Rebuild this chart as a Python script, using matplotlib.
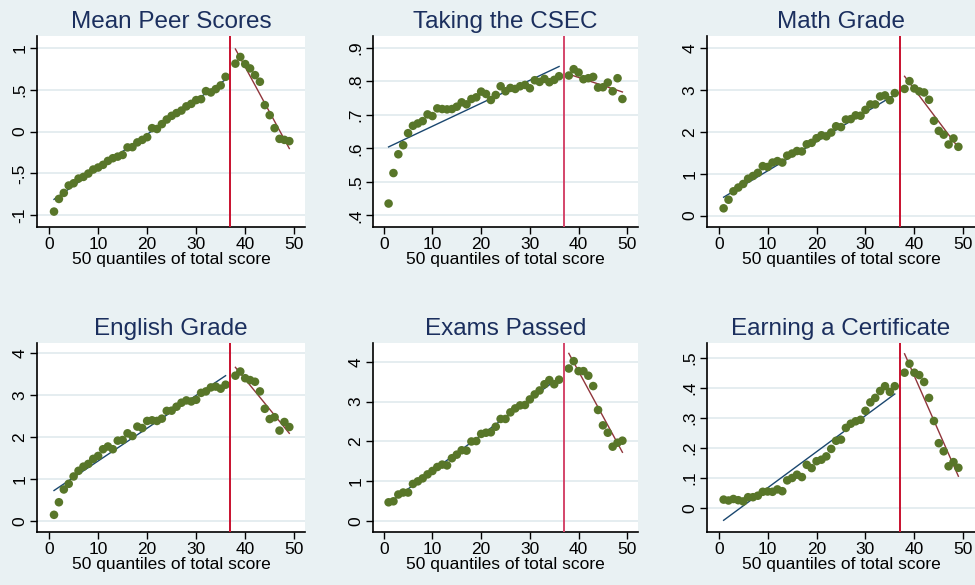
import matplotlib
matplotlib.use('Agg')
import matplotlib.pyplot as plt

# --- data (quantile bins 1-36 and 38-49) ---
x_left = list(range(1, 37))
x_right = list(range(38, 50))
cutoff = 37

peer_left = [-0.956, -0.805, -0.733, -0.645, -0.618, -0.562, -0.542, -0.502, -0.454, -0.430,
             -0.398, -0.351, -0.319, -0.300, -0.280, -0.190, -0.187, -0.130, -0.100, -0.068,
             0.040, 0.030, 0.088, 0.143, 0.187, 0.220, 0.250, 0.300, 0.330, 0.375,
             0.386, 0.482, 0.466, 0.506, 0.550, 0.653]
peer_right = [0.810, 0.890, 0.805, 0.753, 0.673, 0.594, 0.315, 0.195, 0.040, -0.088, -0.100, -0.115]
peer_fit_left = [-0.81, 0.62]
peer_fit_right = [0.985, -0.203]

csec_left = [0.435, 0.526, 0.582, 0.609, 0.645, 0.667, 0.674, 0.681, 0.701, 0.696,
             0.719, 0.717, 0.716, 0.717, 0.724, 0.737, 0.731, 0.747, 0.752, 0.769,
             0.762, 0.744, 0.759, 0.785, 0.770, 0.780, 0.777, 0.785, 0.789, 0.779,
             0.803, 0.798, 0.807, 0.797, 0.804, 0.815]
csec_right = [0.817, 0.836, 0.826, 0.806, 0.809, 0.813, 0.781, 0.782, 0.796, 0.770, 0.809, 0.747]
csec_fit_left = [0.604, 0.844]
csec_fit_right = [0.821, 0.768]

math_left = [0.175, 0.380, 0.580, 0.670, 0.755, 0.880, 0.945, 1.020, 1.180, 1.160,
             1.265, 1.300, 1.265, 1.430, 1.480, 1.540, 1.530, 1.700, 1.735, 1.845,
             1.915, 1.890, 1.980, 2.130, 2.110, 2.290, 2.300, 2.390, 2.380, 2.520,
             2.650, 2.650, 2.840, 2.865, 2.750, 2.920]
math_right = [3.020, 3.205, 3.030, 2.960, 2.935, 2.760, 2.260, 2.020, 1.930, 1.695, 1.840, 1.640]
math_fit_left = [0.44, 2.88]
math_fit_right = [3.32, 1.62]

english_left = [0.150, 0.450, 0.755, 0.890, 1.065, 1.200, 1.300, 1.365, 1.485, 1.555,
                1.715, 1.780, 1.715, 1.920, 1.935, 2.095, 2.030, 2.255, 2.220, 2.390,
                2.405, 2.390, 2.445, 2.630, 2.635, 2.730, 2.825, 2.880, 2.855, 2.895,
                3.060, 3.095, 3.190, 3.210, 3.160, 3.255]
english_right = [3.470, 3.570, 3.410, 3.365, 3.325, 3.095, 2.680, 2.435, 2.480, 2.160, 2.365, 2.245]
english_fit_left = [0.73, 3.47]
english_fit_right = [3.67, 2.095]

exams_left = [0.475, 0.500, 0.670, 0.720, 0.720, 0.935, 1.000, 1.075, 1.175, 1.260,
              1.360, 1.420, 1.400, 1.580, 1.670, 1.780, 1.770, 2.000, 2.010, 2.190,
              2.220, 2.230, 2.370, 2.565, 2.565, 2.730, 2.830, 2.905, 2.915, 3.055,
              3.180, 3.280, 3.435, 3.540, 3.435, 3.550]
exams_right = [3.830, 4.015, 3.765, 3.765, 3.650, 3.390, 2.790, 2.405, 2.220, 1.870, 1.970, 2.020]
exams_fit_left = [0.45, 3.60]
exams_fit_right = [4.21, 1.73]

cert_left = [0.028, 0.025, 0.030, 0.026, 0.022, 0.036, 0.036, 0.041, 0.054, 0.055,
             0.054, 0.062, 0.056, 0.092, 0.100, 0.111, 0.103, 0.144, 0.133, 0.156,
             0.161, 0.172, 0.197, 0.224, 0.228, 0.267, 0.281, 0.289, 0.294, 0.324,
             0.352, 0.367, 0.390, 0.406, 0.387, 0.406]
cert_right = [0.451, 0.481, 0.451, 0.443, 0.420, 0.367, 0.290, 0.216, 0.189, 0.139, 0.153, 0.134]
cert_fit_left = [-0.041, 0.38]
cert_fit_right = [0.514, 0.106]

titles = ['Mean Peer Scores', 'Taking the CSEC', 'Math Grade',
          'English Grade', 'Exams Passed', 'Earning a Certificate']
yticks = [[-1, -0.5, 0, 0.5, 1], [0.4, 0.5, 0.6, 0.7, 0.8, 0.9], [0, 1, 2, 3, 4],
          [0, 1, 2, 3, 4], [0, 1, 2, 3, 4], [0, 0.1, 0.2, 0.3, 0.4, 0.5]]
yticklabels = [['-1', '-.5', '0', '.5', '1'], ['.4', '.5', '.6', '.7', '.8', '.9'],
               ['0', '1', '2', '3', '4'], ['0', '1', '2', '3', '4'], ['0', '1', '2', '3', '4'],
               ['0', '.1', '.2', '.3', '.4', '.5']]
xticks = [0, 10, 20, 30, 40, 50]
xlabel = '50 quantiles of total score'

panels = [
    (peer_left, peer_right, peer_fit_left, peer_fit_right),
    (csec_left, csec_right, csec_fit_left, csec_fit_right),
    (math_left, math_right, math_fit_left, math_fit_right),
    (english_left, english_right, english_fit_left, english_fit_right),
    (exams_left, exams_right, exams_fit_left, exams_fit_right),
    (cert_left, cert_right, cert_fit_left, cert_fit_right),
]

# --- layout (pixels of the 975x585 figure) ---
W, H = 975, 585
boxes = [(37, 36, 305, 227), (373, 36, 638, 227), (707, 36, 975, 227),
         (37, 343, 305, 532), (373, 343, 638, 532), (707, 343, 975, 532)]
xlims = [(-2.47, 52.2), (-2.2, 52.2), (-2.4, 52.4), (-2.47, 52.2), (-2.2, 52.2), (-2.4, 52.4)]
ylims = [(-1.14, 1.14), (0.365, 0.935), (-0.27, 4.28), (-0.26, 4.25), (-0.27, 4.47), (-0.08, 0.55)]
vline_colors = ['#c8102e', '#d4456a', '#c8102e', '#c8102e', '#d4456a', '#c8102e']

BG = '#e9f1f3'
GRID = '#e3ecef'
DOT = '#587629'
BLUE = '#1a476f'
MAROON = '#90353b'
NAVY = '#1b2f5e'

plt.rcParams['font.family'] = ['Liberation Sans', 'DejaVu Sans']

fig = plt.figure(figsize=(W / 100, H / 100), dpi=100, facecolor=BG)

for i, (left, right, fit_l, fit_r) in enumerate(panels):
    x0, y0, x1, y1 = boxes[i]
    ax = fig.add_axes([x0 / W, 1 - y1 / H, (x1 - x0) / W, (y1 - y0) / H])
    ax.set_facecolor('white')
    ax.set_xlim(*xlims[i])
    ax.set_ylim(*ylims[i])

    for t in yticks[i]:
        ax.axhline(t, color=GRID, linewidth=1.3, zorder=0)

    ax.plot([x_left[0], x_left[-1]], fit_l, color=BLUE, linewidth=1.0, zorder=2)
    ax.plot([x_right[0], x_right[-1]], fit_r, color=MAROON, linewidth=1.0, zorder=2)
    ax.scatter(x_left, left, s=38, color=DOT, edgecolors='none', zorder=3)
    ax.scatter(x_right, right, s=38, color=DOT, edgecolors='none', zorder=3)
    ax.axvline(cutoff, color=vline_colors[i], linewidth=1.4, zorder=4)

    ax.set_xticks(xticks)
    ax.set_xticklabels([str(t) for t in xticks])
    ax.set_yticks(yticks[i])
    ax.set_yticklabels(yticklabels[i], rotation=90, va='center')
    ax.tick_params(axis='both', labelsize=12.5, length=5, width=1, color='black',
                   labelcolor='black', pad=2)
    for s in ['top', 'right']:
        ax.spines[s].set_visible(False)
    for s in ['left', 'bottom']:
        ax.spines[s].set_linewidth(1.2)
        ax.spines[s].set_color('black')

    ax.set_xlabel(xlabel, fontsize=12.5, labelpad=0)
    ax.set_title(titles[i], fontsize=17.5, color=NAVY, pad=6)

fig.savefig('out.png', dpi=100, facecolor=BG)
